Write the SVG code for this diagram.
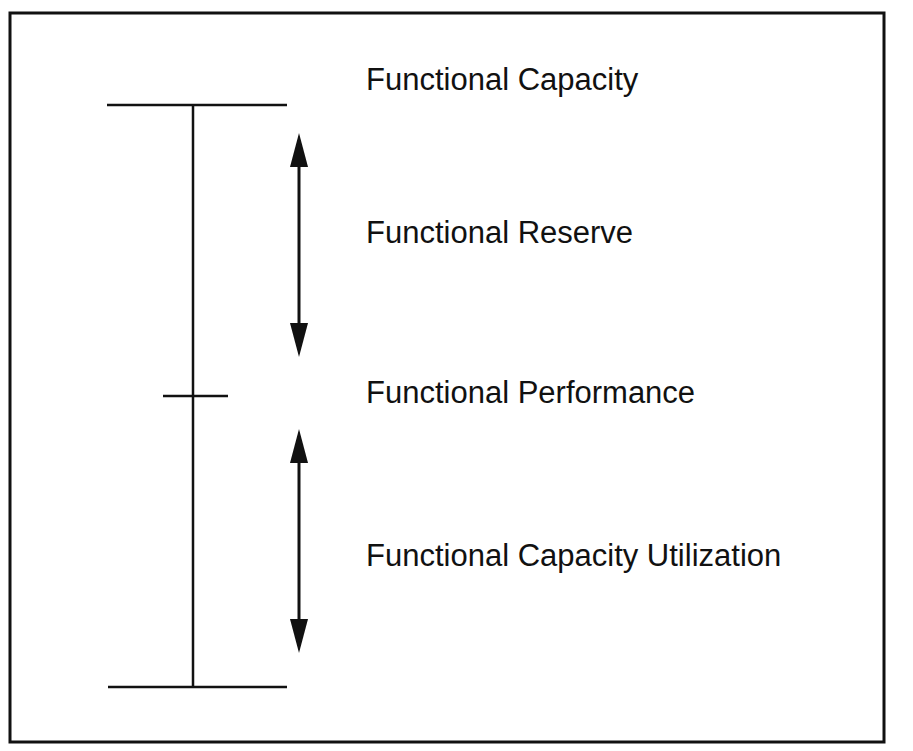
<svg xmlns="http://www.w3.org/2000/svg" width="913" height="751" viewBox="0 0 913 751">
<style>
.ln{stroke:#111;stroke-width:2.5;fill:none}
.ar{stroke:#111;stroke-width:3;fill:none}
.hd{fill:#111}
.lbl{font-family:"Liberation Sans",Arial,sans-serif;font-size:31px;fill:#111}
</style>
<rect x="0" y="0" width="913" height="751" fill="#fff"/>
<rect id="frame" x="10" y="13" width="874" height="729" fill="none" stroke="#111" stroke-width="3"/>
<g id="scale">
<line class="ln" x1="107" y1="105" x2="287" y2="105"/>
<line class="ln" x1="193" y1="105" x2="193" y2="687"/>
<line class="ln" x1="163" y1="396" x2="228" y2="396"/>
<line class="ln" x1="108" y1="687" x2="287" y2="687"/>
</g>
<g id="connectors">
<line class="ar" x1="299" y1="160" x2="299" y2="330"/>
<path class="hd" d="M299,133 L290,167 L308,167 Z"/>
<path class="hd" d="M299,357 L290,323 L308,323 Z"/>
<line class="ar" x1="299" y1="456" x2="299" y2="626"/>
<path class="hd" d="M299,429 L290,463 L308,463 Z"/>
<path class="hd" d="M299,653 L290,619 L308,619 Z"/>
</g>
<g id="n-capacity"><text class="lbl" x="366" y="90">Functional Capacity</text></g>
<g id="n-reserve"><text class="lbl" x="366" y="243">Functional Reserve</text></g>
<g id="n-performance"><text class="lbl" x="366" y="403">Functional Performance</text></g>
<g id="n-utilization"><text class="lbl" x="366" y="566">Functional Capacity Utilization</text></g>
</svg>
